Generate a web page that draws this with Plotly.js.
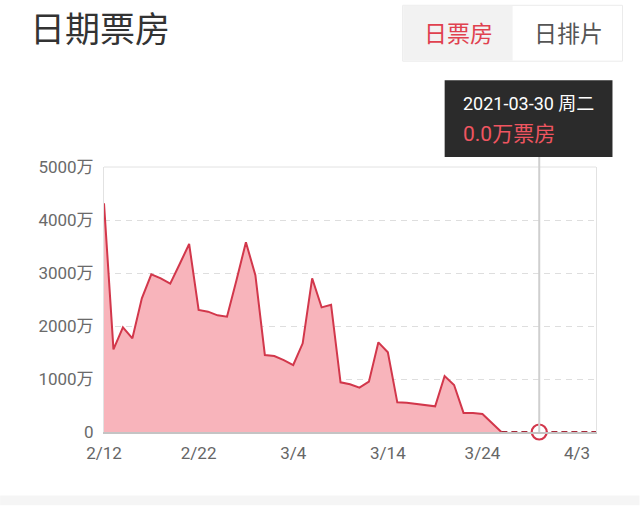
<!DOCTYPE html>
<html>
<head>
<meta charset="utf-8">
<script src="https://cdn.plot.ly/plotly-3.0.1.min.js"></script>
<style>
  html, body { margin: 0; padding: 0; background: #fff; }
  #chart { width: 640px; height: 506px; }
</style>
</head>
<body>
<div id="chart"></div>
<script>
// daily box office, unit 万
var dates = [
  '2021-02-12','2021-02-13','2021-02-14','2021-02-15','2021-02-16','2021-02-17','2021-02-18',
  '2021-02-19','2021-02-20','2021-02-21','2021-02-22','2021-02-23','2021-02-24','2021-02-25',
  '2021-02-26','2021-02-27','2021-02-28','2021-03-01','2021-03-02','2021-03-03','2021-03-04',
  '2021-03-05','2021-03-06','2021-03-07','2021-03-08','2021-03-09','2021-03-10','2021-03-11',
  '2021-03-12','2021-03-13','2021-03-14','2021-03-15','2021-03-16','2021-03-17','2021-03-18',
  '2021-03-19','2021-03-20','2021-03-21','2021-03-22','2021-03-23','2021-03-24','2021-03-25',
  '2021-03-26'
];
var boxOffice = [
  4315, 1560, 1975, 1768, 2523, 2975, 2900,
  2798, 3170, 3547, 2302, 2270, 2201, 2176,
  2865, 3579, 2960, 1453, 1434, 1358, 1264,
  1673, 2900, 2352, 2402, 937, 900, 836,
  949, 1692, 1503, 560, 553, 528, 497,
  484, 1057, 887, 360, 358, 340, 176,
  0
];
// days with no box office yet (dashed)
var futureDates = ['2021-03-26','2021-03-27','2021-03-28','2021-03-29','2021-03-30','2021-03-31',
  '2021-04-01','2021-04-02','2021-04-03','2021-04-04','2021-04-05'];
var futureValues = [0,0,0,0,0,0,0,0,0,0,0];

var yTicks = [0, 1000, 2000, 3000, 4000, 5000];
var yTickText = ['0', '1000万', '2000万', '3000万', '4000万', '5000万'];

var tipDate = '2021-03-30';
var tipValue = 0;
var tipLine1 = '2021-03-30 周二';
var tipLine2 = '0.0万票房';

// pixel -> paper helpers (plot area 104..596.5 x 167..432.5)
var L = 104, R = 596.5, T = 167, B = 432.5;
function px(x) { return (x - L) / (R - L); }
function py(y) { return (B - y) / (B - T); }

var red = '#d2374b';
var font = 'Roboto, "Noto Sans CJK SC", sans-serif';

var traces = [
  {
    x: dates, y: boxOffice, type: 'scatter', mode: 'lines',
    line: { color: red, width: 2 },
    fill: 'tozeroy', fillcolor: '#f8b4bb',
    hoverinfo: 'skip'
  },
  {
    x: futureDates, y: futureValues, type: 'scatter', mode: 'lines',
    line: { color: '#a52a3a', width: 2, dash: '6px,4px' },
    hoverinfo: 'skip'
  },
  {
    x: [tipDate], y: [tipValue], type: 'scatter', mode: 'markers',
    marker: { size: 15, color: '#fff', line: { color: red, width: 2.2 } },
    cliponaxis: false,
    hoverinfo: 'skip'
  }
];

var layout = {
  width: 640, height: 506,
  margin: { l: L, r: 640 - R, t: T, b: 506 - B, pad: 0 },
  paper_bgcolor: '#fff', plot_bgcolor: '#fff',
  showlegend: false,
  font: { family: font, color: '#666', size: 17 },
  title: {
    text: '日期票房',
    font: { family: font, size: 35, color: '#333' },
    xref: 'container', yref: 'container',
    x: 30 / 640, xanchor: 'left',
    y: 1 - 30 / 506, yanchor: 'middle'
  },
  xaxis: {
    type: 'date',
    range: ['2021-02-12', '2021-04-05'],
    tick0: '2021-02-12', dtick: 10 * 86400000,
    tickformat: '%-m/%-d',
    showgrid: false, zeroline: false,
    showline: true, linecolor: '#c4c4c4', linewidth: 1.5,
    ticks: '', ticklabelstandoff: 5,
    tickfont: { size: 17, color: '#666' },
    fixedrange: true
  },
  yaxis: {
    range: [0, 5000],
    tickvals: yTicks, ticktext: yTickText,
    showgrid: true, gridcolor: '#dedede', griddash: '6px,5px', gridwidth: 1,
    zeroline: false,
    showline: true, linecolor: '#e2e2e2', linewidth: 1, mirror: true,
    ticks: '', ticklabelstandoff: 6,
    tickfont: { size: 17, color: '#6a6a6a' },
    fixedrange: true
  },
  shapes: [
    // top edge of frame
    { type: 'line', xref: 'paper', yref: 'paper', x0: 0, x1: 1, y0: 1, y1: 1,
      line: { color: '#e2e2e2', width: 1 } },
    // tab buttons
    { type: 'rect', xref: 'paper', yref: 'paper', x0: px(403), x1: px(623), y0: py(61), y1: py(5),
      fillcolor: '#ffffff', line: { color: '#ebebeb', width: 1 } },
    { type: 'rect', xref: 'paper', yref: 'paper', x0: px(403.5), x1: px(513), y0: py(60.5), y1: py(5.5),
      fillcolor: '#f2f2f2', line: { width: 0 } },
    // tooltip guide line
    { type: 'line', xref: 'x', yref: 'paper', x0: tipDate, x1: tipDate, y0: 0, y1: py(157),
      line: { color: '#cfcfcf', width: 2 } },
    // tooltip box
    { type: 'rect', xref: 'paper', yref: 'paper', x0: px(445), x1: px(613), y0: py(157), y1: py(80),
      fillcolor: '#2b2b2b', line: { width: 0 } },
    // bottom band
    { type: 'rect', xref: 'paper', yref: 'paper', x0: px(0), x1: px(640), y0: py(506), y1: py(496),
      fillcolor: '#f5f5f5', line: { width: 0 } }
  ],
  annotations: [
    { text: '日票房', xref: 'paper', yref: 'paper', x: px(458.5), y: py(34),
      xanchor: 'center', yanchor: 'middle', showarrow: false,
      font: { family: font, size: 23, color: '#e0414f' } },
    { text: '日排片', xref: 'paper', yref: 'paper', x: px(568.5), y: py(34),
      xanchor: 'center', yanchor: 'middle', showarrow: false,
      font: { family: font, size: 23, color: '#555' } },
    { text: tipLine1, xref: 'paper', yref: 'paper', x: px(461), y: py(103),
      xanchor: 'left', yanchor: 'middle', showarrow: false,
      font: { family: font, size: 18, color: '#ffffff' } },
    { text: tipLine2, xref: 'paper', yref: 'paper', x: px(461), y: py(134),
      xanchor: 'left', yanchor: 'middle', showarrow: false,
      font: { family: font, size: 21, color: '#ef5560' } }
  ]
};

Plotly.newPlot('chart', traces, layout, { displayModeBar: false, staticPlot: true });
</script>
</body>
</html>
